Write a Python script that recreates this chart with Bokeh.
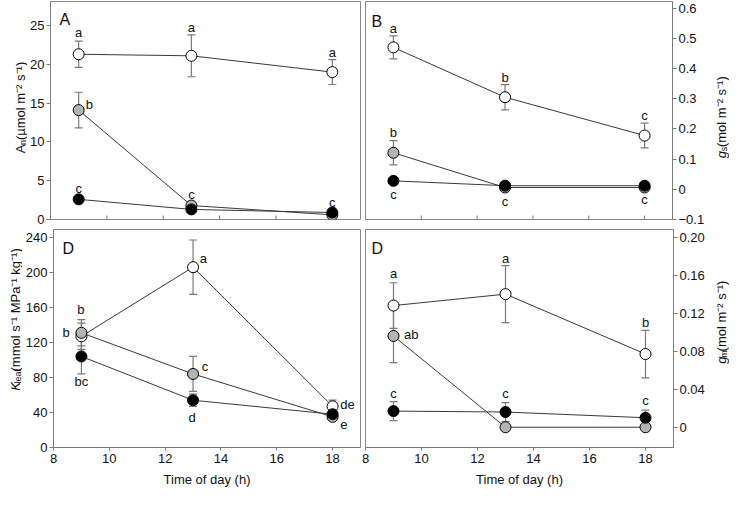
from bokeh.plotting import figure
from bokeh.models import ColumnDataSource, Whisker, TeeHead, Label, FixedTicker, Range1d
from bokeh.layouts import column, row
from bokeh.embed import file_html
from bokeh.resources import INLINE
from bokeh.core.properties import value

# ---------------- data ----------------
hours = [9, 13, 18]
x_ticks = [8, 10, 12, 14, 16, 18]
x_tick_labels = ["8", "10", "12", "14", "16", "18"]
x_title = "Time of day (h)"

# Panel A: net assimilation
an_ticks = [0, 5, 10, 15, 20, 25]
an_tick_labels = ["0", "5", "10", "15", "20", "25"]
an_white = [21.3, 21.1, 19.0]
an_white_se = [1.7, 2.7, 1.6]
an_gray = [14.1, 1.8, 0.6]
an_gray_se = [2.3, 0.0, 0.0]
an_black = [2.6, 1.3, 0.9]
an_black_se = [0.0, 0.0, 0.0]
an_letters = ["a", "a", "a", "b", "c", "c", "c"]
an_letter_x = [9, 13, 18, 9.38, 13, 18, 9]
an_letter_y = [24.1, 24.8, 21.5, 14.8, 3.25, 2.2, 3.95]

# Panel B: stomatal conductance
gs_ticks = [-0.1, 0, 0.1, 0.2, 0.3, 0.4, 0.5, 0.6]
gs_tick_labels = ["\u22120.1", "0", "0.1", "0.2", "0.3", "0.4", "0.5", "0.6"]
gs_white = [0.470, 0.305, 0.178]
gs_white_se = [0.038, 0.042, 0.041]
gs_gray = [0.121, 0.006, 0.006]
gs_gray_se = [0.040, 0.0, 0.0]
gs_black = [0.028, 0.012, 0.012]
gs_black_se = [0.0, 0.0, 0.0]
gs_letters = ["a", "b", "c", "b", "c", "c", "c"]
gs_letter_x = [9, 13, 18, 9, 9, 13, 18]
gs_letter_y = [0.534, 0.369, 0.245, 0.189, -0.018, -0.039, -0.034]

# Panel D (left): leaf hydraulic conductance
kl_ticks = [0, 40, 80, 120, 160, 200, 240]
kl_tick_labels = ["0", "40", "80", "120", "160", "200", "240"]
kl_white = [127, 206, 47]
kl_white_se = [15, 31, 7]
kl_gray = [131, 84, 35]
kl_gray_se = [15, 20, 3]
kl_black = [104, 54, 38]
kl_black_se = [20, 7, 3]
kl_letters = ["a", "b", "b", "bc", "c", "d", "de", "e"]
kl_letter_x = [13.37, 8.98, 8.45, 9.0, 13.43, 12.97, 18.53, 18.4]
kl_letter_y = [216, 157.4, 131.8, 75.2, 92, 34.1, 48.8, 26]

# Panel D (right): mesophyll conductance
gm_ticks = [0, 0.04, 0.08, 0.12, 0.16, 0.2]
gm_tick_labels = ["0", "0.04", "0.08", "0.12", "0.16", "0.20"]
gm_white = [0.128, 0.140, 0.077]
gm_white_se = [0.024, 0.030, 0.025]
gm_gray = [0.096, 0.0, 0.0]
gm_gray_se = [0.028, 0.0, 0.0]
gm_black = [0.017, 0.016, 0.010]
gm_black_se = [0.010, 0.010, 0.008]
gm_letters = ["a", "a", "b", "ab", "c", "c", "c"]
gm_letter_x = [9, 13, 18, 9.63, 9, 13, 18]
gm_letter_y = [0.162, 0.178, 0.110, 0.0975, 0.035, 0.035, 0.028]

# ---------------- style ----------------
FONT = "Liberation Sans"
FRAME_W = 310
FRAME_H = 218
AXC = "#7a7a7a"
LINEC = "#3a3a3a"
ERRC = "#7a7a7a"
TXT = "#111111"
FILLS = ["white", "#b4b4b4", "black"]
X_RANGE = (8, 19)

CW = {" ": 278, "(": 333, ")": 333, "\u00b5": 576, "m": 833, "o": 556, "l": 222,
      "s": 500, "\u207b": 400, "\u00b9": 333, "\u00b2": 333, "M": 833, "P": 667,
      "a": 556, "k": 500, "g": 556, "e": 556, "f": 278, "n": 556, "A": 667, "K": 667}


def text_w(s, size):
    return sum(CW.get(c, 556) for c in s) / 1000.0 * size


def make_fig(y_rng, left, right, top, bottom, y_side, show_x):
    p = figure(width=left + FRAME_W + right, height=top + FRAME_H + bottom,
               x_range=Range1d(*X_RANGE), y_range=Range1d(*y_rng),
               output_backend="svg", toolbar_location=None,
               y_axis_location=y_side,
               x_axis_location="below" if show_x else None,
               min_border_left=left, min_border_right=right,
               min_border_top=top, min_border_bottom=bottom)
    p.grid.visible = False
    p.outline_line_color = "#888888"
    p.outline_line_width = 1
    p.background_fill_color = "white"
    p.border_fill_color = "white"
    for ax in p.axis:
        ax.axis_line_color = AXC
        ax.major_tick_line_color = AXC
        ax.minor_tick_line_color = None
        ax.major_label_text_font = FONT
        ax.major_label_text_font_size = "13px"
        ax.major_label_text_color = TXT
        ax.major_label_standoff = 2
    if show_x:
        xa = p.xaxis[0]
        xa.ticker = FixedTicker(ticks=x_ticks)
        xa.major_label_overrides = dict(zip(x_ticks, x_tick_labels))
        xa.major_tick_in = 0
        xa.major_tick_out = 3
        xa.major_label_standoff = 3
        xa.axis_label = x_title
        xa.axis_label_text_font = FONT
        xa.axis_label_text_font_size = "13px"
        xa.axis_label_text_font_style = "normal"
        xa.axis_label_text_color = TXT
        xa.axis_label_standoff = 6
    else:
        # inward tick marks on the bottom edge of the frame, at the x tick values
        dy = (y_rng[1] - y_rng[0]) / FRAME_H
        p.segment(x0=x_ticks, y0=[y_rng[0]] * len(x_ticks), x1=x_ticks,
                  y1=[y_rng[0] + 4 * dy] * len(x_ticks), line_color=AXC, line_width=1)
    ya = p.yaxis[0]
    ya.major_tick_in = 0
    ya.major_tick_out = 4
    return p


def add_series(p, vals_list, se_list):
    for vals in vals_list:
        p.line(hours, vals, line_color=LINEC, line_width=1)
    for vals, se in zip(vals_list, se_list):
        xs = [h for h, s in zip(hours, se) if s > 0]
        lo = [v - s for v, s in zip(vals, se) if s > 0]
        hi = [v + s for v, s in zip(vals, se) if s > 0]
        if not xs:
            continue
        src = ColumnDataSource(dict(x=xs, lo=lo, hi=hi))
        w = Whisker(base="x", lower="lo", upper="hi", source=src, dimension="height",
                    line_color=ERRC, line_width=1.2,
                    upper_head=TeeHead(size=8, line_color=ERRC, line_width=1.2),
                    lower_head=TeeHead(size=8, line_color=ERRC, line_width=1.2))
        p.add_layout(w)
    for vals, fill in zip(vals_list, FILLS):
        p.scatter(hours, vals, marker="circle", size=11, fill_color=fill,
                  line_color="black", line_width=1)


def add_letters(p, letters, xs, ys):
    p.text(x=xs, y=ys, text=letters, text_font=value(FONT), text_font_size="13px",
           text_align="center", text_baseline="middle", text_color=TXT)


def add_panel_letter(p, txt, y_rng, dx_px, dy_px):
    dx = (X_RANGE[1] - X_RANGE[0]) / FRAME_W
    dy = (y_rng[1] - y_rng[0]) / FRAME_H
    p.add_layout(Label(x=X_RANGE[0] + dx_px * dx, y=y_rng[1] - dy_px * dy, text=txt,
                       text_font=FONT, text_font_size="16px", text_align="left",
                       text_baseline="top", text_color=TXT))


def set_yticks(p, ticks, labels):
    p.yaxis[0].ticker = FixedTicker(ticks=ticks)
    p.yaxis[0].major_label_overrides = dict(zip(ticks, labels))


def label_fig(width, height, frame_bottom, pieces, xb, shift):
    """A narrow canvas holding a rotated, composed axis title (pixel coordinates)."""
    lf = figure(width=width, height=height, x_range=Range1d(0, width),
                y_range=Range1d(0, height), output_backend="svg",
                toolbar_location=None, x_axis_location=None, y_axis_location=None,
                min_border_left=0, min_border_right=0, min_border_top=0,
                min_border_bottom=0)
    lf.grid.visible = False
    lf.outline_line_color = None
    lf.background_fill_color = "white"
    lf.border_fill_color = "white"
    total = sum(text_w(t, s) for t, s, _, _ in pieces)
    start = frame_bottom + FRAME_H / 2.0 + shift - total / 2.0
    adv = 0.0
    for t, s, style, sub in pieces:
        lf.text(x=[xb + sub], y=[start + adv], text=[t], angle=90, angle_units="deg",
                text_font=value(FONT), text_font_size=value(f"{s}px"),
                text_font_style=style, text_align="left",
                text_baseline="alphabetic", text_color=TXT)
        adv += text_w(t, s)
    return lf


TOP_T, TOP_B = 1, 8
BOT_T, BOT_B = 2, 42
H_TOP = TOP_T + FRAME_H + TOP_B
H_BOT = BOT_T + FRAME_H + BOT_B
SUB = 2.5
RB, LABR_W = 32, 22

# Panel A
yA = (0, 28.1)
pA = make_fig(yA, 23, 1, TOP_T, TOP_B, "left", False)
set_yticks(pA, an_ticks, an_tick_labels)
add_series(pA, [an_white, an_gray, an_black], [an_white_se, an_gray_se, an_black_se])
add_letters(pA, an_letters, an_letter_x, an_letter_y)
add_panel_letter(pA, "A", yA, 9, 9)
labA = label_fig(27, H_TOP, TOP_B,
                 [("A", 13, "normal", 0), ("n", 9, "normal", SUB),
                  (" (\u00b5mol m\u207b\u00b2 s\u207b\u00b9)", 13, "normal", 0)], 20, 1)

# Panel B
yB = (-0.1, 0.622)
pB = make_fig(yB, 4, RB, TOP_T, TOP_B, "right", False)
set_yticks(pB, gs_ticks, gs_tick_labels)
add_series(pB, [gs_white, gs_gray, gs_black], [gs_white_se, gs_gray_se, gs_black_se])
add_letters(pB, gs_letters, gs_letter_x, gs_letter_y)
add_panel_letter(pB, "B", yB, 6, 11)
labB = label_fig(LABR_W, H_TOP, TOP_B,
                 [("g", 13, "italic", 0), ("s", 9, "normal", SUB),
                  (" (mol m\u207b\u00b2 s\u207b\u00b9)", 13, "normal", 0)], 14, -9)

# Panel D (left)
yK = (0, 249)
pK = make_fig(yK, 28, 1, BOT_T, BOT_B, "left", True)
set_yticks(pK, kl_ticks, kl_tick_labels)
add_series(pK, [kl_white, kl_gray, kl_black], [kl_white_se, kl_gray_se, kl_black_se])
add_letters(pK, kl_letters, kl_letter_x, kl_letter_y)
add_panel_letter(pK, "D", yK, 9, 10)
labK = label_fig(22, H_BOT, BOT_B,
                 [("K", 13, "italic", 0), ("leaf", 9, "normal", SUB),
                  (" (mmol s\u207b\u00b9 MPa\u207b\u00b9 kg\u207b\u00b9)", 13, "normal", 0)],
                 14.5, -6)

# Panel D (right)
yG = (-0.0213, 0.208)
pG = make_fig(yG, 4, RB, BOT_T, BOT_B, "right", True)
set_yticks(pG, gm_ticks, gm_tick_labels)
add_series(pG, [gm_white, gm_gray, gm_black], [gm_white_se, gm_gray_se, gm_black_se])
add_letters(pG, gm_letters, gm_letter_x, gm_letter_y)
add_panel_letter(pG, "D", yG, 6, 10)
labG = label_fig(LABR_W, H_BOT, BOT_B,
                 [("g", 13, "italic", 0), ("m", 9, "normal", SUB),
                  (" (mol m\u207b\u00b2 s\u207b\u00b9)", 13, "normal", 0)], 14, -4.5)

layout = column(row(labA, pA, pB, labB), row(labK, pK, pG, labG))
open("out.html", "w").write(file_html(layout, INLINE))
